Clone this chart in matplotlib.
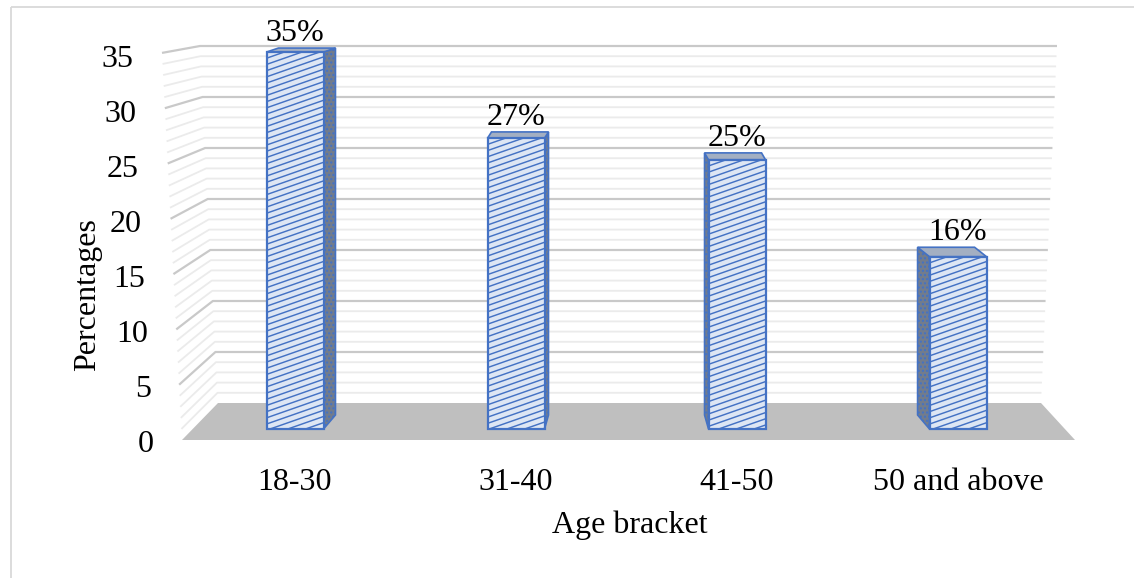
import numpy as np
import matplotlib
matplotlib.use('Agg')
import matplotlib.pyplot as plt
import matplotlib.transforms as mtransforms
from matplotlib.patches import Polygon, Rectangle
from matplotlib.collections import LineCollection

# data
age_groups = ['18-30', '31-40', '41-50', '50 and above']
percentages = [35, 27, 25, 16]
y_ticks = [0, 5, 10, 15, 20, 25, 30, 35]

W, H = 1134, 578
plt.rcParams['font.family'] = ['Liberation Serif', 'DejaVu Serif']
FS = 23
BLUE = '#4472c4'

fig = plt.figure(figsize=(W / 100, H / 100), dpi=100)

# background axes in pixel units (walls, floor, texts)
ax_bg = fig.add_axes([0, 0, 1, 1])
ax_bg.set_xlim(0, W)
ax_bg.set_ylim(H, 0)
ax_bg.axis('off')

ax_bg.add_patch(Rectangle((11, 7), 1300, 700, fill=False, edgecolor='#d9d9d9', lw=1.3))

YMAX = y_ticks[-1]


def front_left_x(v):
    return 182 - 20 * v / YMAX


def back_left_x(v):
    return 218 - 18 * v / YMAX


def back_right_x(v):
    return 1041 + 16 * v / YMAX


def front_y(v):
    return 440 - 11.06 * v


def back_y(v):
    return 403 - 10.2 * v


# gridlines on side wall and back wall (1 unit minor, 5 unit major)
for v in range(1, YMAX + 1):
    major = v % 5 == 0
    col = '#c9c9c9' if major else '#ebebeb'
    lw = 1.6 if major else 1.3
    ax_bg.plot([front_left_x(v), back_left_x(v), back_right_x(v)],
               [front_y(v), back_y(v), back_y(v)], color=col, lw=lw, zorder=1,
               solid_capstyle='butt')

# floor
ax_bg.add_patch(Polygon([(front_left_x(0), front_y(0)), (back_left_x(0), back_y(0)),
                         (back_right_x(0), back_y(0)), (1075, front_y(0))],
                        closed=True, facecolor='#bfbfbf', edgecolor='none', zorder=2))

# y tick labels along the slanted front edge
for v in y_ticks:
    ax_bg.text(154 - 0.6 * v, 452 - 11.0 * v, str(v), ha='right', va='baseline', fontsize=FS)

ax_bg.text(88, 295, 'Percentages', rotation=90, ha='center', va='center', fontsize=FS)
ax_bg.text(630, 533, 'Age bracket', ha='center', va='baseline', fontsize=FS)

# bar axes
BAR_X0, BAR_DX = 295, 221
BAR_Y0, BAR_PX = 429, 10.77
left_px = BAR_X0 - 0.5 * BAR_DX
ax_bar = fig.add_axes([left_px / W, (H - BAR_Y0) / H, 4 * BAR_DX / W, YMAX * BAR_PX / H])
ax_bar.set_xlim(-0.5, 3.5)
ax_bar.set_ylim(0, YMAX)
ax_bar.axis('off')
ax_bar.patch.set_visible(False)

x = np.arange(len(age_groups))
bar_w = 57 / BAR_DX
bars = ax_bar.bar(x, percentages, width=bar_w, color='#dde6f4', edgecolor='none', zorder=3)

slope = 0.35 * BAR_DX / BAR_PX
gap = 6.2 / BAR_PX
for i, (v, patch) in enumerate(zip(percentages, bars)):
    x0, x1 = i - bar_w / 2, i + bar_w / 2
    px_c = BAR_X0 + BAR_DX * i
    dx = 0.036 * (627 - px_c) / BAR_DX
    d_top = (14 - 10 * v / YMAX) / BAR_PX
    d_bot = 14 / BAR_PX
    ex = x1 if dx > 0 else x0
    side = Polygon([(ex, 0), (ex, v), (ex + dx, v + d_top), (ex + dx, d_bot)],
                   closed=True, facecolor='#727c8c', edgecolor=BLUE, hatch='....',
                   lw=1.2, zorder=2, clip_on=False)
    ax_bar.add_patch(side)
    top = Polygon([(x0, v), (x1, v), (x1 + dx, v + d_top), (x0 + dx, v + d_top)],
                  closed=True, facecolor='#a3afc2', edgecolor=BLUE, lw=1.2,
                  zorder=2, clip_on=False)
    ax_bar.add_patch(top)

    # shallow diagonal hatch on the front face
    segs = [[(x0, c), (x1, c + slope * bar_w)]
            for c in np.arange(v + gap, -slope * bar_w - gap, -gap)]
    lc = LineCollection(segs, colors=BLUE, linewidths=1.05, zorder=4)
    ax_bar.add_collection(lc)
    lc.set_clip_path(patch)

    ax_bar.annotate(f'{v}%', xy=(i, v + d_top), xytext=(0, 5), textcoords='offset points',
                    ha='center', va='baseline', fontsize=FS, annotation_clip=False)

ax_bar.bar(x, percentages, width=bar_w, fill=False, edgecolor=BLUE, lw=1.6, zorder=5,
           clip_on=False)

# category labels under bars
blend = mtransforms.blended_transform_factory(ax_bar.transData, ax_bg.transData)
for i, lab in enumerate(age_groups):
    ax_bg.text(i, 490, lab, transform=blend, ha='center', va='baseline', fontsize=FS)

fig.savefig('out.png', dpi=100)
